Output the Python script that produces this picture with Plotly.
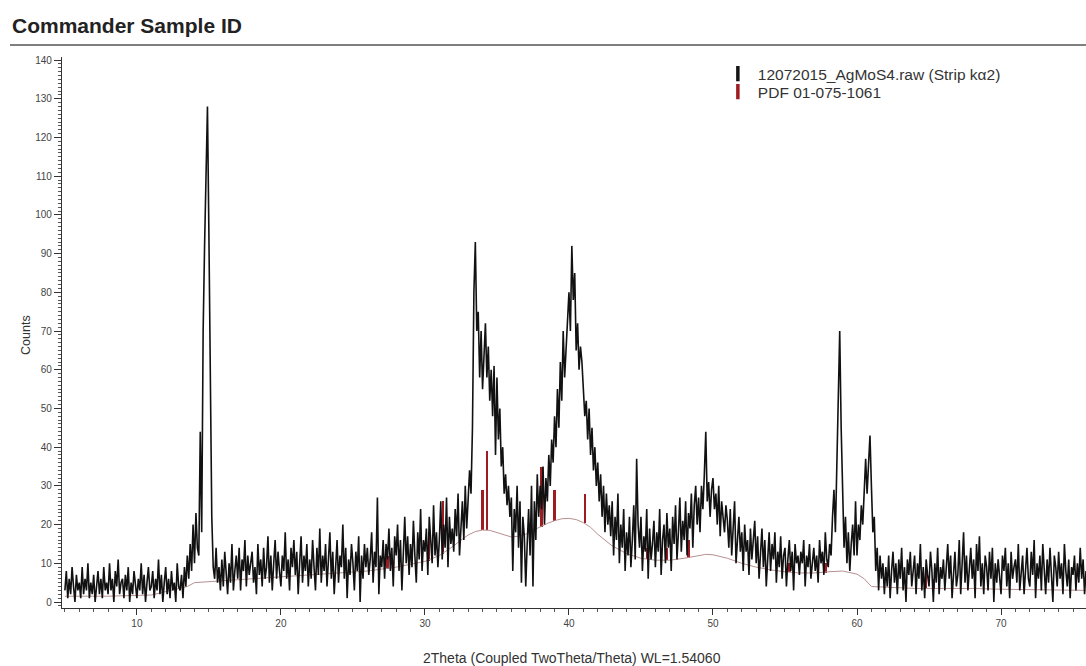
import plotly.graph_objects as go

# ---------------- data ----------------
two_theta_start = 5.0
two_theta_step = 0.1

# raw counts, one row per degree (x.0 ... x.9)
counts = [
    3, 8, 1, 6, 2, 9, 4, 0, 7, 3,          # 5
    5, 1, 9, 2, 6, 3, 10, 1, 5, 2,         # 6
    7, 0, 4, 8, 2, 6, 1, 9, 3, 5,          # 7
    2, 10, 3, 6, 0, 8, 4, 11, 2, 5,        # 8
    6, 1, 7, 3, 9, 0, 5, 2, 8, 4,          # 9
    1, 6, 3, 10, 2, 7, 0, 5, 9, 3,         # 10
    4, 8, 1, 6, 3, 11, 2, 7, 0, 5,         # 11
    9, 2, 6, 1, 8, 3, 5, 0, 10, 4,         # 12
    3, 7, 1, 9, 4, 12, 6, 15, 8, 20,       # 13
    10, 23, 14, 12, 44, 18, 70, 92, 110, 128,  # 14
    95, 52, 22, 9, 6, 14, 5, 9, 3, 11,     # 15
    4, 13, 7, 2, 10, 5, 15, 3, 8, 12,      # 16
    6, 14, 3, 11, 8, 16, 4, 12, 7, 10,     # 17
    13, 5, 9, 2, 15, 7, 11, 4, 14, 6,      # 18
    9, 17, 5, 12, 3, 10, 16, 6, 13, 8,     # 19
    4, 12, 8, 18, 6, 11, 3, 14, 9, 16,     # 20
    7, 13, 2, 10, 17, 5, 12, 8, 15, 4,     # 21
    11, 6, 16, 9, 3, 14, 7, 19, 5, 12,     # 22
    8, 15, 4, 11, 18, 6, 13, 2, 10, 16,    # 23
    5, 12, 9, 20, 6, 14, 1, 11, 7, 15,     # 24
    10, 3, 13, 8, 17, 0, 12, 6, 15, 9,     # 25
    14, 7, 11, 18, 5, 13, 9, 27, 2, 12,    # 26
    9, 16, 6, 15, 11, 19, 8, 14, 4, 17,    # 27
    12, 20, 8, 16, 3, 14, 22, 10, 17, 7,   # 28
    15, 9, 21, 12, 5, 18, 11, 24, 8, 16,   # 29
    13, 19, 7, 22, 14, 10, 25, 12, 18, 9,  # 30
    16, 26, 11, 20, 14, 27, 9, 22, 15, 19, # 31
    13, 24, 17, 28, 12, 21, 26, 16, 30, 19,  # 32
    25, 34, 28, 45, 80, 93, 70, 75, 58, 70,  # 33
    55, 62, 72, 58, 66, 52, 60, 48, 61, 38,  # 34
    58, 42, 50, 35, 40, 28, 33, 25, 30, 22,  # 35
    27, 8, 24, 18, 30, 14, 26, 5, 22, 17,    # 36
    4, 15, 24, 12, 30, 4, 26, 16, 33, 22,    # 37
    30, 24, 35, 20, 32, 26, 38, 30, 42, 36,  # 38
    48, 40, 55, 45, 62, 52, 70, 58, 66, 75,  # 39
    80, 70, 92, 78, 85, 65, 72, 60, 66, 62,  # 40
    55, 48, 52, 42, 50, 38, 45, 34, 40, 30,  # 41
    36, 26, 33, 22, 30, 18, 28, 20, 25, 17,  # 42
    26, 12, 22, 16, 28, 10, 20, 14, 24, 8,   # 43
    18, 12, 22, 9, 16, 25, 11, 37, 20, 14,   # 44
    22, 8, 17, 13, 24, 6, 19, 11, 15, 21,    # 45
    9, 18, 13, 24, 7, 16, 20, 10, 23, 14,    # 46
    19, 8, 22, 15, 25, 11, 18, 27, 13, 21,   # 47
    16, 26, 12, 23, 19, 28, 14, 25, 30, 20,  # 48
    27, 18, 30, 24, 33, 44, 26, 31, 22, 29,  # 49
    32, 24, 28, 20, 30, 17, 26, 22, 18, 25,  # 50
    21, 14, 24, 12, 19, 26, 10, 17, 22, 13,  # 51
    18, 8, 20, 13, 16, 7, 19, 11, 15, 21,    # 52
    10, 17, 6, 14, 19, 9, 16, 4, 13, 18,     # 53
    8, 15, 11, 18, 5, 13, 9, 17, 6, 12,      # 54
    14, 4, 11, 16, 8, 13, 3, 15, 10, 12,     # 55
    7, 13, 10, 16, 4, 12, 9, 15, 6, 11,      # 56
    14, 8, 12, 5, 16, 10, 13, 7, 18, 11,     # 57
    9, 15, 12, 22, 29, 18, 35, 52, 70, 45,   # 58
    28, 14, 22, 10, 18, 8, 15, 20, 12, 26,   # 59
    12, 20, 16, 25, 20, 30, 37, 28, 35, 43,  # 60
    30, 18, 22, 8, 14, 3, 12, 6, 10, 2,      # 61
    9, 4, 12, 1, 8, 13, 5, 10, 2, 11,        # 62
    6, 14, 3, 9, 0, 11, 7, 13, 4, 8,         # 63
    12, 2, 10, 6, 15, 3, 9, 1, 11, 7,        # 64
    4, 13, 8, 0, 10, 5, 14, 2, 9, 6,         # 65
    11, 3, 9, 15, 6, 12, 1, 8, 13, 4,        # 66
    7, 16, 2, 10, 18, 5, 12, 3, 9, 14,       # 67
    6, 11, 1, 15, 8, 17, 4, 10, 2, 12,       # 68
    9, 3, 13, 6, 14, 0, 10, 5, 11, 7,        # 69
    2, 12, 8, 14, 4, 10, 1, 13, 6, 9,        # 70
    11, 5, 15, 3, 9, 12, 2, 8, 14, 6,        # 71
    4, 13, 7, 16, 1, 10, 6, 12, 3, 15,       # 72
    8, 2, 11, 5, 14, 7, 0, 12, 9, 4,         # 73
    13, 6, 10, 2, 15, 8, 4, 11, 1, 9,        # 74
    7, 12, 3, 10, 5, 14, 6, 11, 2, 8,        # 75
]

# fitted background curve
bg_theta = [5, 8, 11, 13.5, 14, 15, 16, 18, 20, 22, 24, 26, 28, 30, 31, 32, 32.5, 33, 33.5,
            34, 34.5, 35, 35.5, 36, 36.5, 37, 37.5, 38, 38.5, 39, 39.5, 40, 40.5, 41, 41.5,
            42, 42.5, 43, 44, 45, 46, 47, 48, 49, 49.5, 50, 51, 52, 53, 54, 55, 56, 57, 58,
            59, 60, 60.5, 61, 62, 64, 66, 68, 70, 72, 74, 76]
bg_counts = [1.5, 1.5, 1.8, 4, 5, 5.2, 5.5, 6, 6.5, 7, 7.5, 8, 9, 10.5, 12, 14.5, 16, 17.3, 18.2,
             18.6, 18.5, 18, 17.3, 16.8, 17, 17.5, 18.5, 19.5, 20.3, 21, 21.5, 21.6, 21.3, 20.5, 19.3,
             17.5, 16, 14.5, 12.5, 11.3, 10.8, 10.8, 11.3, 12, 12.3, 12.2, 11.3, 10, 9, 8.3, 7.8, 7.5, 7.5, 7.8,
             8, 7.2, 6, 4, 3.8, 3.5, 3.5, 3.5, 3.3, 3.2, 3, 3]

# reference pattern PDF 01-075-1061 (stick positions, base on background, top)
pdf_pos = [27.4, 30.3, 31.25, 34.0, 34.3, 38.1, 39.0, 41.1, 45.4, 46.8, 48.3, 52.5, 55.3, 57.8, 64.8, 65.3]
pdf_base = [8.6, 10.5, 12.4, 18.6, 18.5, 19.5, 21.0, 20.5, 11.2, 10.8, 11.3, 10, 7.8, 7.6, 3.5, 3.5]
pdf_top = [12, 18, 26, 29, 39, 35, 29, 28, 14, 14, 16, 12, 10, 10, 8, 6]

legend_labels = ["12072015_AgMoS4.raw (Strip k\u03b12)", "PDF 01-075-1061"]

# ---------------- figure ----------------
theta = [round(two_theta_start + two_theta_step * i, 2) for i in range(len(counts))]

fig = go.Figure()

fig.add_trace(go.Scatter(x=bg_theta, y=bg_counts, mode="lines",
                         line=dict(color="#b89090", width=1), showlegend=False, hoverinfo="skip"))
fig.add_trace(go.Scatter(x=theta, y=counts, mode="lines",
                         line=dict(color="#111111", width=1.6), showlegend=False))
fig.add_trace(go.Bar(x=pdf_pos, y=[t - b for t, b in zip(pdf_top, pdf_base)], base=pdf_base,
                     width=0.17, marker=dict(color="#9e1b22", line=dict(width=0)),
                     showlegend=False))

# legend entries with small vertical bar markers (one legend box per row)
for name, col, lg in zip(legend_labels, ["#141414", "#9e1b22"], ["legend", "legend2"]):
    fig.add_trace(go.Scatter(x=[None], y=[None], mode="markers", name=name, legend=lg,
                             marker=dict(symbol="line-ns", size=11,
                                         line=dict(color=col, width=3.5))))

legend_style = dict(xanchor="left", yanchor="top", bgcolor="rgba(0,0,0,0)",
                    font=dict(size=15.5, color="#333"))

fig.update_layout(
    width=1086, height=666,
    margin=dict(l=62, r=0, t=57, b=58),
    paper_bgcolor="white", plot_bgcolor="white",
    font=dict(family="Liberation Sans, Arial, sans-serif", color="#222"),
    title=dict(text="<b>Commander Sample ID</b>", xref="container", yref="container",
               x=12 / 1086, xanchor="left", y=1 - 26 / 666, yanchor="middle",
               font=dict(size=21, color="#222")),
    showlegend=True,
    legend=dict(x=0.6405, y=1.0, **legend_style),
    legend2=dict(x=0.6405, y=(608 - 75) / 551, **legend_style),
    bargap=0,
)

fig.update_xaxes(range=[4.8, 75.9], showgrid=False, zeroline=False,
                 showline=True, linecolor="#333", linewidth=1.2,
                 ticks="outside", ticklen=6, tickcolor="#333", dtick=10, tick0=0,
                 tickfont=dict(size=10, color="#444"),
                 minor=dict(dtick=1, ticks="outside", ticklen=3, tickcolor="#555"))
fig.update_yaxes(range=[-1.55, 140.8], showgrid=False, zeroline=False,
                 showline=True, linecolor="#333", linewidth=1.2,
                 ticks="outside", ticklen=7, tickcolor="#333", dtick=10, tick0=0,
                 tickfont=dict(size=10, color="#444"),
                 minor=dict(dtick=1, ticks="outside", ticklen=3, tickcolor="#555"))

fig.add_annotation(text="Counts", xref="paper", yref="paper",
                   x=-0.044, y=(608 - 335) / 551, textangle=-90, showarrow=False,
                   font=dict(size=12.5, color="#333"))
fig.add_annotation(text="2Theta (Coupled TwoTheta/Theta) WL=1.54060", xref="paper", yref="paper",
                   x=(572 - 62) / 1024, y=-(658 - 608) / 551, yanchor="middle", showarrow=False,
                   font=dict(size=14, color="#333"))

# rule under the title
fig.add_shape(type="line", xref="paper", yref="paper",
              x0=(10 - 62) / 1024, x1=1.0, y0=(608 - 45) / 551, y1=(608 - 45) / 551,
              line=dict(color="#555", width=1.5))

fig.write_html("out.html", config={"displayModeBar": False},
               post_script="document.body.style.margin='0px';")
